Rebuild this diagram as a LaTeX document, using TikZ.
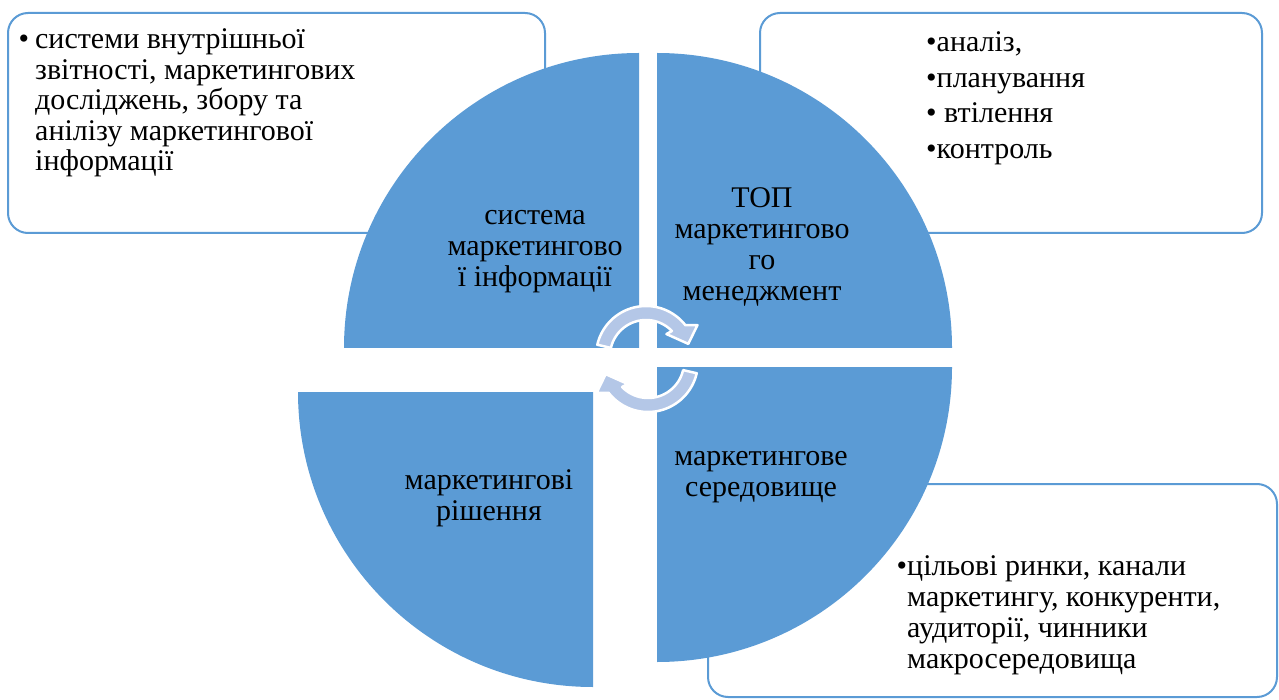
\documentclass[tikz,border=0pt]{standalone}
\usepackage{fontspec}
\setmainfont{Liberation Serif}
\definecolor{slice}{HTML}{5B9BD5}
\definecolor{arrowfill}{HTML}{B4C7E7}
\newcommand{\txtblock}[3][31]{\parbox[t]{#2}{\fontsize{30}{#1}\selectfont #3}}
\tikzset{
  box/.style={draw=slice, line width=2pt, fill=white, rounded corners=20pt},
  sl/.style={fill=slice},
  txt/.style={inner sep=0pt, text=black},
  circarrow/.style={fill=arrowfill, draw=white, line width=2.5pt, line join=round},
}
\begin{document}
\begin{tikzpicture}[x=1pt,y=-1pt]
\useasboundingbox (0,0) rectangle (1279,700);
% text boxes
\draw[box] (8,13) rectangle (545,233);
\draw[box] (760,13) rectangle (1262,233);
\draw[box] (708,484) rectangle (1277,697);
\node[txt, anchor=base west] (tl) at (35,49)
  {\txtblock[30.5]{480pt}{\raggedright\leavevmode\llap{•\kern6pt}системи внутрішньої\\звітності, маркетингових\\досліджень, збору та\\анілізу маркетингової\\інформації}};
\node[txt, anchor=base west] (tr) at (926,52)
  {\txtblock[35.5]{300pt}{\raggedright\leavevmode •аналіз,\\•планування\\• втілення\\•контроль}};
\node[txt, anchor=base west] (br) at (907,575)
  {\txtblock[31]{360pt}{\raggedright\leavevmode\llap{•}цільові ринки, канали\\маркетингу, конкуренти,\\аудиторії, чинники\\макросередовища}};
% quarter slices
\fill[sl] (639,348) -- ++(-295,0) arc[start angle=180, end angle=270, radius=295] -- cycle;
\fill[sl] (657,348) -- ++(0,-295) arc[start angle=270, end angle=360, radius=295] -- cycle;
\fill[sl] (657,367) -- ++(295,0) arc[start angle=0, end angle=90, radius=295] -- cycle;
\fill[sl] (593,392) -- ++(0,295) arc[start angle=90, end angle=180, radius=295] -- cycle;
% slice labels
\node[txt, anchor=base] (s1) at (535,225)
  {\txtblock{300pt}{\centering система\\маркетингово\\ї інформації}};
\node[txt, anchor=base] (s2) at (762,208)
  {\txtblock{300pt}{\centering ТОП\\маркетингово\\го\\менеджмент}};
\node[txt, anchor=base] (s3) at (489,489)
  {\txtblock{300pt}{\centering маркетингові\\рішення}};
\node[txt, anchor=base] (s4) at (761,465)
  {\txtblock{300pt}{\centering маркетингове\\середовище}};
% circular arrows
\filldraw[circarrow]
  plot[domain=193:322, samples=40] ({646+50*cos(\x)},{356+50*sin(\x)})
  -- ({646+60*cos(329)},{356+60*sin(329)})
  -- ({646+44*cos(344)},{356+44*sin(344)})
  -- ({646+30*cos(313)},{356+30*sin(313)})
  -- plot[domain=316:193, samples=40] ({646+36*cos(\x)},{356+36*sin(\x)})
  -- cycle;
\filldraw[circarrow]
  plot[domain=13:142, samples=40] ({648+50*cos(\x)},{362+50*sin(\x)})
  -- ({648+60*cos(149)},{362+60*sin(149)})
  -- ({648+44*cos(164)},{362+44*sin(164)})
  -- ({648+30*cos(133)},{362+30*sin(133)})
  -- plot[domain=136:13, samples=40] ({648+36*cos(\x)},{362+36*sin(\x)})
  -- cycle;
\end{tikzpicture}
\end{document}
